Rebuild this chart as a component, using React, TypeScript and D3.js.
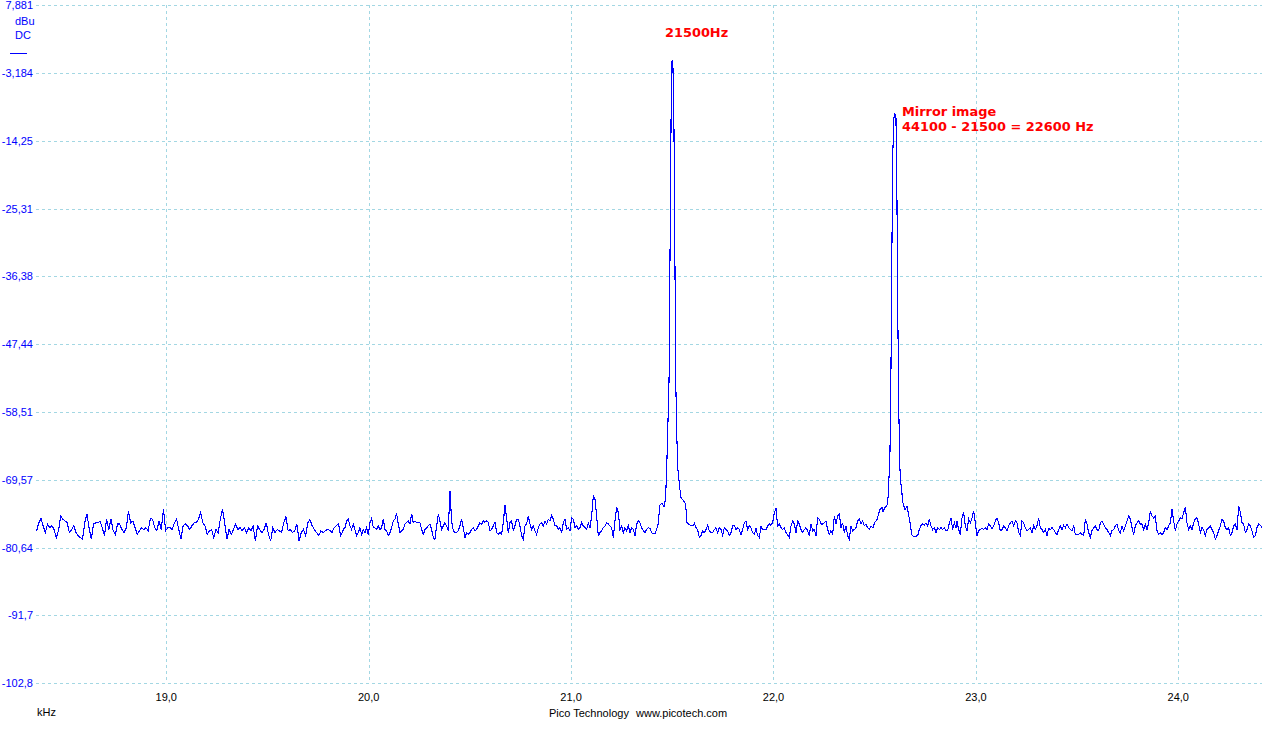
import React from "react";
import * as d3 from "d3";

// ---- axis definitions ----
const Y_TICKS = [7.881, -3.184, -14.25, -25.31, -36.38, -47.44, -58.51, -69.57, -80.64, -91.7, -102.8];
const Y_LABELS = ["7,881", "-3,184", "-14,25", "-25,31", "-36,38", "-47,44", "-58,51", "-69,57", "-80,64", "-91,7", "-102,8"];
const X_TICKS = [19, 20, 21, 22, 23, 24];
const X_LABELS = ["19,0", "20,0", "21,0", "22,0", "23,0", "24,0"];
const X_DOMAIN = [18.3565, 24.4135];
const Y_DOMAIN = [-102.8, 7.881];

// ---- spectrum (dBu) : noise segments, evenly spaced bins between start/end kHz ----
const SEG1_RANGE = [18.3595, 19.8615];
const SEG1 = [-77.9,-76.6,-75.9,-77.1,-78.2,-76.8,-77.4,-77.1,-77.7,-79.0,-77.9,-75.5,-76.0,-76.3,-76.6,-78.2,-77.7,-77.1,-78.2,-78.7,-79.0,-79.3,-76.6,-75.2,-77.4,-79.3,-76.8,-76.6,-76.6,-76.3,-77.4,-78.7,-76.0,-77.7,-76.0,-77.9,-78.5,-76.8,-76.8,-77.7,-78.2,-77.4,-74.7,-76.6,-76.3,-77.4,-78.5,-77.9,-77.4,-77.7,-77.4,-77.9,-75.9,-76.0,-77.4,-77.9,-76.3,-77.7,-74.4,-77.9,-77.4,-77.4,-77.7,-76.6,-76.0,-77.7,-79.3,-77.1,-76.8,-77.1,-77.7,-77.1,-76.6,-76.6,-76.0,-74.9,-76.6,-77.1,-78.5,-77.9,-77.7,-79.0,-77.7,-78.2,-76.0,-74.4,-76.6,-79.3,-77.7,-78.5,-77.7,-76.8,-77.7,-77.4,-77.9,-77.4,-78.2,-77.4,-77.9,-77.1,-79.6,-77.1,-77.7,-78.2,-77.7,-76.6,-78.5,-79.6,-77.4,-78.2,-77.7,-77.9,-78.2,-76.6,-75.6,-77.9,-77.7,-78.2,-77.9,-76.8,-79.6,-78.2,-77.7,-78.7,-76.6,-76.1,-77.1,-77.7,-78.2,-78.7,-77.9,-78.2,-77.9,-77.7,-77.8,-78.2,-77.4,-77.1,-76.7,-78.7];

const SEG2_RANGE = [19.8664, 21.3898];
const SEG2 = [-78.5,-77.7,-77.4,-76.3,-76.0,-77.1,-77.7,-76.8,-77.7,-78.7,-78.2,-77.4,-78.5,-77.7,-78.2,-77.4,-78.5,-76.6,-75.9,-77.4,-77.4,-77.7,-77.1,-77.7,-77.4,-76.0,-77.7,-77.9,-78.7,-78.2,-77.4,-76.3,-76.0,-75.1,-76.8,-78.2,-77.9,-77.7,-76.8,-76.5,-76.3,-76.8,-75.1,-76.6,-76.3,-76.6,-76.5,-76.6,-77.7,-78.5,-77.7,-77.4,-77.1,-76.8,-77.7,-79.0,-79.3,-77.1,-75.2,-76.3,-77.7,-77.1,-76.6,-77.1,-77.9,-71.4,-76.3,-77.9,-78.2,-78.2,-77.9,-77.1,-76.0,-77.4,-79.0,-78.2,-78.5,-78.2,-77.7,-77.4,-77.9,-77.7,-77.1,-76.6,-76.8,-76.3,-76.5,-76.3,-76.5,-77.9,-77.7,-77.1,-76.5,-78.2,-78.5,-78.2,-78.5,-76.6,-73.7,-75.8,-78.2,-76.6,-76.3,-77.9,-77.1,-76.0,-76.0,-77.1,-78.7,-79.3,-77.1,-76.8,-75.5,-76.8,-77.7,-77.1,-77.9,-78.5,-77.4,-76.8,-76.6,-77.1,-76.3,-76.8,-76.0,-76.3,-75.4,-76.0,-77.1,-77.1,-77.7,-77.4,-78.2,-76.6,-76.0,-77.7,-77.4,-77.9,-75.8,-76.0,-77.4,-77.1,-77.7,-77.4,-76.6,-77.1,-77.4,-77.7,-76.6,-77.4,-75.5,-72.2,-72.8,-75.5,-78.7,-78.2,-77.9,-77.4,-77.1,-76.6,-76.8,-77.1,-77.4,-79.0,-76.3,-74.1,-74.9,-77.7,-77.1,-78.2,-77.4,-77.9,-77.1,-78.2,-77.4,-77.7,-78.7,-76.8,-76.3,-76.6,-77.4,-77.9,-78.2,-77.7,-77.4,-77.5];

// carrier peak around 21,5 kHz
const PEAK1_F = [21.400,21.415,21.429,21.439,21.449,21.459,21.464,21.469,21.474,21.479,21.484,21.489,21.494,21.499,21.503,21.508,21.513,21.518,21.523,21.528,21.538,21.543,21.553,21.563,21.568,21.573,21.583];
const PEAK1_V = [-78.3,-78.3,-77.1,-73.7,-73.4,-74.0,-73.2,-70.8,-65.9,-59.8,-53.3,-32.1,-10.8,-1.05,-1.5,-10.8,-33.7,-54.9,-63.1,-68.0,-71.2,-72.5,-72.9,-73.4,-74.5,-76.6,-76.9];

const SEG3_RANGE = [21.5924, 22.4817];
const SEG3 = [-77.0,-77.1,-76.7,-77.4,-77.7,-79.0,-78.7,-77.9,-78.2,-77.7,-77.0,-77.9,-78.2,-78.2,-77.7,-77.4,-78.2,-77.4,-77.7,-78.6,-77.4,-77.7,-77.9,-78.7,-78.2,-77.1,-77.0,-77.7,-77.4,-77.7,-78.6,-77.7,-76.6,-76.3,-77.7,-77.1,-77.4,-78.2,-78.5,-77.5,-78.7,-79.0,-77.2,-77.7,-77.7,-77.7,-77.1,-76.8,-77.0,-76.6,-74.9,-74.3,-77.1,-76.8,-77.4,-77.7,-77.4,-78.2,-78.6,-79.0,-77.1,-76.3,-76.8,-78.2,-76.3,-76.8,-77.7,-78.2,-77.7,-77.4,-77.9,-78.7,-76.8,-77.9,-77.7,-78.7,-75.8,-76.0,-76.8,-76.8,-76.6,-76.3,-77.7,-78.5,-77.9,-78.5,-75.5,-76.8,-75.5,-75.2,-77.4,-76.6,-78.2,-77.1,-78.7,-79.3,-77.1,-77.9,-77.7,-77.4,-76.3,-76.0,-76.7,-76.3,-77.1,-76.8,-77.4,-77.7,-77.1];

// mirror image peak around 22,6 kHz
const PEAK2_F = [22.491,22.501,22.511,22.516,22.526,22.536,22.541,22.551,22.561,22.566,22.570,22.575,22.580,22.585,22.590,22.595,22.600,22.605,22.610,22.615,22.620,22.625,22.630,22.640,22.650,22.660,22.665,22.674,22.684,22.694];
const PEAK2_V = [-77.4,-76.5,-76.1,-75.5,-74.4,-74.1,-74.8,-74.1,-73.7,-72.5,-69.6,-66.4,-53.3,-32.1,-15.7,-10.5,-9.87,-10.2,-23.9,-45.1,-59.8,-68.0,-70.4,-73.4,-74.5,-73.9,-74.8,-76.5,-78.6,-78.9];

const SEG4_RANGE = [22.7123, 22.9017];
const SEG4 = [-78.7,-77.7,-77.0,-76.8,-77.0,-76.6,-77.1,-76.0,-77.1,-77.7,-77.4,-78.2,-77.4,-77.7,-77.4,-77.7,-77.4,-77.9,-77.9,-76.6,-75.8,-77.7,-76.6,-77.5];

const SEG5_RANGE = [22.9066, 24.4135];
const SEG5 = [-76.3,-77.7,-78.5,-75.8,-74.9,-77.1,-77.9,-76.0,-76.6,-75.8,-74.7,-76.6,-78.7,-77.9,-77.7,-77.5,-77.7,-77.4,-77.7,-76.8,-77.1,-77.5,-77.1,-76.3,-75.8,-76.6,-77.9,-77.7,-77.1,-77.4,-77.9,-77.1,-76.6,-76.3,-77.1,-76.3,-76.6,-78.2,-78.7,-76.3,-76.6,-77.4,-77.9,-77.7,-77.4,-78.2,-77.1,-77.7,-77.1,-75.8,-77.4,-77.7,-78.2,-77.7,-78.7,-77.5,-77.7,-77.4,-77.7,-78.2,-78.6,-77.7,-77.1,-77.7,-77.0,-77.4,-76.8,-77.4,-77.7,-77.9,-77.1,-78.5,-78.5,-78.5,-78.2,-78.5,-78.7,-76.0,-76.8,-78.2,-79.0,-77.9,-77.4,-77.1,-77.7,-77.9,-76.6,-76.3,-76.8,-77.4,-77.7,-78.2,-78.7,-77.9,-77.7,-77.1,-76.8,-77.9,-78.2,-77.1,-77.9,-77.1,-76.3,-75.5,-76.0,-77.4,-78.5,-77.1,-76.6,-76.3,-76.8,-76.8,-77.7,-76.8,-77.7,-76.6,-74.7,-75.5,-75.8,-75.5,-77.9,-78.5,-78.2,-78.5,-78.2,-77.4,-77.7,-77.1,-76.6,-74.4,-76.3,-77.9,-76.8,-76.3,-75.8,-76.0,-74.9,-74.1,-76.6,-77.7,-77.1,-77.7,-76.6,-75.9,-75.8,-76.8,-78.2,-77.4,-77.7,-78.7,-77.7,-77.4,-77.1,-77.7,-78.2,-79.3,-78.7,-77.9,-77.1,-76.0,-76.3,-77.4,-77.7,-77.4,-78.7,-78.2,-77.1,-76.8,-77.7,-73.9,-74.9,-76.6,-76.8,-78.2,-77.7,-76.8,-77.1,-77.9,-79.0,-78.7,-77.4,-76.8,-77.0,-77.4];

type Pt = { f: number; v: number };

function bins(vals: number[], range: number[]): Pt[] {
  const n = vals.length;
  return vals.map((v, i) => ({ f: range[0] + ((range[1] - range[0]) * i) / (n - 1), v }));
}
function pairs(fs: number[], vs: number[]): Pt[] {
  return fs.map((f, i) => ({ f, v: vs[i] }));
}

const W = 1280;
const H = 732;
const PLOT = { left: 36, right: 1262, top: 5.3, bottom: 683.3 };
const GRID = "#a3d7e3";
const BLUE = "#0000ff";
const RED = "#ff0000";
const FONT = "'Liberation Sans', Arial, sans-serif";
const BOLD_FONT = "'DejaVu Sans', Verdana, sans-serif";

export default function App() {
  const x = d3.scaleLinear().domain(X_DOMAIN).range([PLOT.left, PLOT.right]);
  const y = d3.scaleLinear().domain(Y_DOMAIN).range([PLOT.bottom, PLOT.top]);

  const data: Pt[] = [
    ...bins(SEG1, SEG1_RANGE),
    ...bins(SEG2, SEG2_RANGE),
    ...pairs(PEAK1_F, PEAK1_V),
    ...bins(SEG3, SEG3_RANGE),
    ...pairs(PEAK2_F, PEAK2_V),
    ...bins(SEG4, SEG4_RANGE),
    ...bins(SEG5, SEG5_RANGE),
  ];

  const line = d3
    .line<Pt>()
    .x((d) => x(d.f))
    .y((d) => y(d.v));

  return (
    <svg
      width={W}
      height={H}
      viewBox={`0 0 ${W} ${H}`}
      style={{ position: "absolute", left: 0, top: 0, background: "#fff", display: "block" }}
    >
      <rect x={0} y={0} width={W} height={H} fill="#fff" />
      {/* grid */}
      <g shapeRendering="crispEdges">
        {Y_TICKS.map((t, i) => (
          <line
            key={"hy" + i}
            x1={PLOT.left}
            x2={PLOT.right}
            y1={Math.round(y(t)) + 0.5}
            y2={Math.round(y(t)) + 0.5}
            stroke={GRID}
            strokeWidth={1}
            strokeDasharray="3,3"
          />
        ))}
        {X_TICKS.map((t, i) => (
          <line
            key={"vx" + i}
            x1={Math.round(x(t)) + 0.5}
            x2={Math.round(x(t)) + 0.5}
            y1={PLOT.top}
            y2={PLOT.bottom}
            stroke={GRID}
            strokeWidth={1}
            strokeDasharray="3,3"
          />
        ))}
      </g>

      {/* y labels */}
      <g fontFamily={FONT} fontSize={11} fill={BLUE}>
        {Y_TICKS.map((t, i) => (
          <text key={"yl" + i} x={33} y={y(t)} textAnchor="end" dominantBaseline="central">
            {Y_LABELS[i]}
          </text>
        ))}
        <text x={15} y={21} dominantBaseline="central">dBu</text>
        <text x={15} y={35} dominantBaseline="central">DC</text>
      </g>
      <line x1={10} x2={27} y1={53.5} y2={53.5} stroke={BLUE} strokeWidth={1} shapeRendering="crispEdges" />

      {/* x labels */}
      <g fontFamily={FONT} fontSize={11} fill="#000">
        {X_TICKS.map((t, i) => (
          <text key={"xl" + i} x={x(t)} y={697} textAnchor="middle" dominantBaseline="central">
            {X_LABELS[i]}
          </text>
        ))}
        <text x={37} y={712} dominantBaseline="central">kHz</text>
        <text x={549} y={713} dominantBaseline="central">Pico Technology</text>
        <text x={636} y={713} dominantBaseline="central">www.picotech.com</text>
      </g>

      {/* trace */}
      <path d={line(data) || ""} fill="none" stroke={BLUE} strokeWidth={1.1} shapeRendering="crispEdges" />

      {/* annotations */}
      <g fontFamily={BOLD_FONT} fontWeight="bold" fontSize={12.9} fill={RED}>
        <text x={665} y={36.5}>21500Hz</text>
        <text x={902} y={115.5}>Mirror image</text>
        <text x={902} y={131}>44100 - 21500 = 22600 Hz</text>
      </g>
    </svg>
  );
}
